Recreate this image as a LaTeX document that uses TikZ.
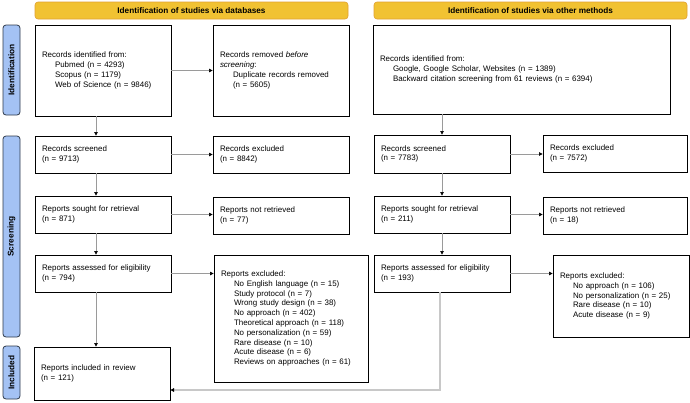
\documentclass[tikz,border=0pt]{standalone}
\usepackage{fontspec}
\setmainfont{Liberation Sans}
\usetikzlibrary{arrows.meta}
\definecolor{hdrfill}{HTML}{F1C232}
\definecolor{hdrdraw}{HTML}{E0A030}
\definecolor{sidefill}{HTML}{A4C2F4}
\definecolor{sidedraw}{HTML}{2F3A4A}
\definecolor{conn}{HTML}{9A9A9A}
\definecolor{fbconn}{HTML}{C8C8C8}
\tikzset{
  box/.style={draw=black, line width=0.8pt, fill=white, align=left, inner xsep=7pt, inner ysep=0pt,
    font=\fontsize{7.95}{9.8}\selectfont},
  hdr/.style={draw=hdrdraw, fill=hdrfill, rounded corners=3pt, line width=0.6pt, font=\fontsize{8.2}{9}\selectfont\bfseries},
  side/.style={draw=sidedraw, fill=sidefill, rounded corners=3pt, line width=0.8pt, font=\fontsize{8.3}{9}\selectfont\bfseries},
  arr/.style={draw=conn, line width=0.6pt, -{Triangle[length=3.6pt,width=3.6pt,color=black]}},
  fbarr/.style={draw=fbconn, line width=1.1pt, -{Triangle[length=3.6pt,width=3.6pt,color=black]}},
}
\newcommand\bnode[6]{%
  \pgfmathsetmacro\bw{#4-#2}\pgfmathsetmacro\bh{#5-#3}%
  \pgfmathsetmacro\bcx{(#2+#4)/2}\pgfmathsetmacro\bcy{(#3+#5)/2}%
  \pgfmathsetmacro\btw{\bw-14}%
  \node[box, minimum width=\bw pt, minimum height=\bh pt, text width=\btw pt] (#1) at (\bcx,\bcy) {#6};}
\newcommand\ind{\hspace*{13pt}}
\begin{document}
\begin{tikzpicture}[x=1pt,y=-1pt]
\useasboundingbox (0,0) rectangle (690,402);
% headers
\node[hdr, minimum width=313pt, minimum height=17pt] (hdrL) at (191.5,10.5) {Identification of studies via databases};
\node[hdr, minimum width=313pt, minimum height=17pt] (hdrR) at (530.5,10.5) {Identification of studies via other methods};
% side labels
\node[side, minimum width=90pt, minimum height=17pt, rotate=90] (sideId) at (11.5,70) {Identification};
\node[side, minimum width=201pt, minimum height=17pt, rotate=90] (sideSc) at (11.5,236.5) {Screening};
\node[side, minimum width=53pt, minimum height=17pt, rotate=90] (sideIn) at (11.5,372.5) {Included};
% left column
\bnode{id}{35}{25}{171}{116}{Records identified from:\\\ind Pubmed (n = 4293)\\\ind Scopus (n = 1179)\\\ind Web of Science (n = 9846)}
\bnode{rem}{213}{25}{349}{116}{Records removed \textit{before}\\\textit{screening}:\\\ind Duplicate records removed\\\ind (n = 5605)}
\bnode{scr}{35}{136}{171}{173}{Records screened\\(n = 9713)}
\bnode{exc}{213}{136}{349}{173}{Records excluded\\(n = 8842)}
\bnode{sou}{35}{196}{171}{233}{Reports sought for retrieval\\(n = 871)}
\bnode{nre}{213}{197}{349}{234}{Reports not retrieved\\(n = 77)}
\bnode{ass}{35}{255}{171}{292}{Reports assessed for eligibility\\(n = 794)}
\bnode{rex}{214}{255}{368}{382}{Reports excluded:\\\ind No English language (n = 15)\\\ind Study protocol (n = 7)\\\ind Wrong study design (n = 38)\\\ind No approach (n = 402)\\\ind Theoretical approach (n = 118)\\\ind No personalization (n = 59)\\\ind Rare disease (n = 10)\\\ind Acute disease (n = 6)\\\ind Reviews on approaches (n = 61)}
\bnode{inc}{34}{347}{170}{400}{Reports included in review\\(n = 121)}
% right column
\bnode{rid}{373}{25}{670}{114}{Records identified from:\\\ind Google, Google Scholar, Websites (n = 1389)\\\ind Backward citation screening from 61 reviews (n = 6394)}
\bnode{rscr}{374}{135}{510}{173}{Records screened\\(n = 7783)}
\bnode{rexc}{543}{135}{687}{172}{Records excluded\\(n = 7572)}
\bnode{rsou}{374}{196}{510}{233}{Reports sought for retrieval\\(n = 211)}
\bnode{rnre}{543}{197}{687}{234}{Reports not retrieved\\(n = 18)}
\bnode{rass}{374}{255}{510}{292}{Reports assessed for eligibility\\(n = 193)}
\bnode{rrex}{553}{255}{689}{337}{Reports excluded:\\\ind No approach (n = 106)\\\ind No personalization (n = 25)\\\ind Rare disease (n = 10)\\\ind Acute disease (n = 9)}
% connectors
\coordinate (lx) at (96,0);
\coordinate (fb) at (440,390);
\draw[arr] (id.south -| lx) -- (scr.north -| lx);
\draw[arr] (scr.south -| lx) -- (sou.north -| lx);
\draw[arr] (sou.south -| lx) -- (ass.north -| lx);
\draw[arr] (ass.south -| lx) -- (inc.north -| lx);
\draw[arr] (id.east) -- (rem.west);
\draw[arr] (scr.east) -- (exc.west);
\draw[arr] (sou.east) -- (sou.east -| nre.west);
\draw[arr] (ass.east) -- (ass.east -| rex.west);
\draw[arr] (rid.south -| rscr.north) -- (rscr.north);
\draw[arr] (rscr.south) -- (rsou.north);
\draw[arr] (rsou.south) -- (rass.north);
\draw[arr] (rscr.east) -- (rscr.east -| rexc.west);
\draw[arr] (rsou.east) -- (rsou.east -| rnre.west);
\draw[arr] (rass.east) -- (rass.east -| rrex.west);
\draw[fbarr] (rass.south -| fb) -- (fb) -- (inc.east |- fb);
\end{tikzpicture}
\end{document}
